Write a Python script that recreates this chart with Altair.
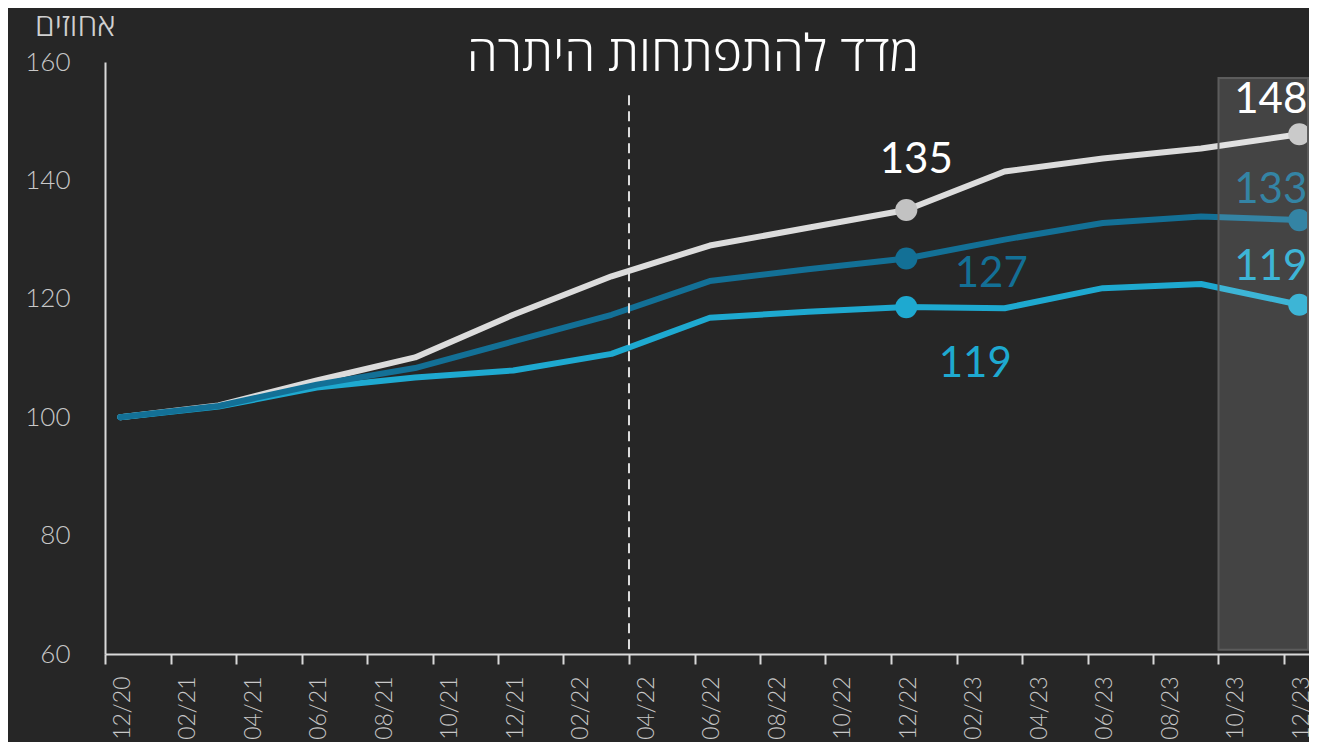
import altair as alt
import pandas as pd

# ---------------- data ----------------
quarters = ["12/20", "03/21", "06/21", "09/21", "12/21", "03/22", "06/22",
            "09/22", "12/22", "03/23", "06/23", "09/23", "12/23"]
series_white = [100, 102.0, 106.2, 110.1, 117.3, 123.8, 129.0, 132.0, 135.0, 141.5, 143.7, 145.4, 147.8]
series_dark = [100, 101.9, 105.5, 108.3, 112.8, 117.3, 123.0, 125.0, 126.8, 130.0, 132.8, 133.9, 133.3]
series_light = [100, 101.8, 105.0, 106.7, 107.9, 110.7, 116.8, 117.8, 118.6, 118.4, 121.8, 122.5, 119.0]

tick_labels = ["12/20", "02/21", "04/21", "06/21", "08/21", "10/21", "12/21",
               "02/22", "04/22", "06/22", "08/22", "10/22", "12/22",
               "02/23", "04/23", "06/23", "08/23", "10/23", "12/23"]
y_ticks = [60, 80, 100, 120, 140, 160]
marker_quarters = ["12/22", "12/23"]
event_month = "04/22"          # dashed vertical line
highlight_start = "10/23"      # shaded window
title_text = "מדד להתפתחות היתרה"
y_title = "אחוזים"

series_names = ["white", "light", "dark"]   # draw order (dark on top)
series_values = {"white": series_white, "dark": series_dark, "light": series_light}

# ---------------- styles ----------------
line_colors = {"white": "#dcdcdc", "dark": "#137096", "light": "#1ea9d0"}
point_colors = {"white": "#c2c2c2", "dark": "#137096", "light": "#1ea9d0"}
text_colors = {"white": "#ffffff", "dark": "#137096", "light": "#1ea9d0"}
# (series, quarter) -> dx, dy, align
annot_style = {
    ("white", "12/22"): (10, -37, "center"),
    ("dark", "12/22"): (85, 28, "center"),
    ("light", "12/22"): (69, 70, "center"),
    ("white", "12/23"): (8, -21, "right"),
    ("dark", "12/23"): (8, -17, "right"),
    ("light", "12/23"): (8, -25, "right"),
}

LABEL_FONT = "Lato, 'Open Sans', sans-serif"
HEB_FONT = "'Open Sans', 'Liberation Sans', 'DejaVu Sans', sans-serif"
MID = 14 / 30  # data are plotted mid-month
PLOT_W = 1204
PX_PER_MONTH = 32.75


def month_index(lbl):
    mm, yy = lbl.split("/")
    return (int(yy) - 20) * 12 + int(mm) - 12


rows = []
for s in series_names:
    for q, v in zip(quarters, series_values[s]):
        rows.append({"series": s, "quarter": q, "m": month_index(q) + MID, "value": v})
df = pd.DataFrame(rows)

x_max = PLOT_W / PX_PER_MONTH
x_scale = alt.Scale(domain=[0, x_max], nice=False, zero=False)
y_scale = alt.Scale(domain=[60, 160], nice=False, zero=False)

label_array = "[" + ",".join("'" + t + "'" for t in tick_labels) + "]"
x_axis = alt.Axis(
    values=[month_index(t) for t in tick_labels],
    labelExpr=label_array + "[round(datum.value/2)]",
    labelAngle=270, labelOffset=17, labelPadding=12, tickSize=10,
    title=None, labelFontSize=23,
)
y_axis = alt.Axis(
    values=y_ticks, ticks=False, labelPadding=35, labelFontSize=26,
    title=y_title, titleAngle=0, titleX=10, titleY=-27, titleAlign="right",
    titleBaseline="alphabetic", titleFont=HEB_FONT, titleFontSize=32,
    titleFontWeight=300, titleColor="#d0d0d0",
)

X = alt.X("m:Q", scale=x_scale, axis=x_axis)
Y = alt.Y("value:Q", scale=y_scale, axis=y_axis)

layers = []
for s in series_names:
    layers.append(
        alt.Chart(df[df.series == s]).mark_line(
            strokeWidth=6, strokeCap="round", strokeJoin="round", color=line_colors[s]
        ).encode(x=X, y=Y)
    )

for s in series_names:
    pts = df[(df.series == s) & (df.quarter.isin(marker_quarters))]
    layers.append(
        alt.Chart(pts).mark_circle(size=490, opacity=1, color=point_colors[s]).encode(
            x=alt.X("m:Q", scale=x_scale), y=alt.Y("value:Q", scale=y_scale)
        )
    )

for (s, q), (dx, dy, align) in annot_style.items():
    d = df[(df.series == s) & (df.quarter == q)].copy()
    d["label"] = d["value"].round().astype(int).astype(str)
    layers.append(
        alt.Chart(d).mark_text(
            dx=dx, dy=dy, align=align, baseline="alphabetic", fontSize=42,
            font=LABEL_FONT, fontWeight=400, color=text_colors[s]
        ).encode(
            x=alt.X("m:Q", scale=x_scale), y=alt.Y("value:Q", scale=y_scale), text="label:N"
        )
    )

rule_df = pd.DataFrame({"m": [month_index(event_month)], "top": [154.4], "bottom": [60]})
layers.append(
    alt.Chart(rule_df).mark_rule(strokeDash=[10, 6], strokeWidth=2, color="#dddddd").encode(
        x=alt.X("m:Q", scale=x_scale), y=alt.Y("top:Q", scale=y_scale), y2="bottom:Q"
    )
)

rect_df = pd.DataFrame({"x0": [month_index(highlight_start)], "x1": [x_max - 0.03],
                        "top": [157.3], "bottom": [60.7]})
layers.append(
    alt.Chart(rect_df).mark_rect(
        fill="#ffffff", fillOpacity=0.14, stroke="#5c5c5c", strokeWidth=2
    ).encode(
        x=alt.X("x0:Q", scale=x_scale), x2="x1:Q",
        y=alt.Y("top:Q", scale=y_scale), y2="bottom:Q"
    )
)

chart = alt.layer(*layers).properties(
    width=PLOT_W, height=592,
    padding={"left": 97, "top": 54, "right": 0, "bottom": 88},
    autosize=alt.AutoSizeParams(type="none"),
    title=alt.TitleParams(
        text=title_text, fontSize=50, font=HEB_FONT, fontWeight=300, color="#ffffff",
        anchor="middle", frame="group", dx=-14, dy=76,
    ),
).configure(
    background="#262626",
).configure_view(
    stroke=None
).configure_axis(
    domainColor="#d9d9d9", domainWidth=2, grid=False,
    labelColor="#c8c8c8", labelFont=LABEL_FONT, labelFontWeight=300,
    tickColor="#d9d9d9", tickWidth=2,
)

chart.save("out.html", embed_options={"renderer": "svg", "actions": False})
